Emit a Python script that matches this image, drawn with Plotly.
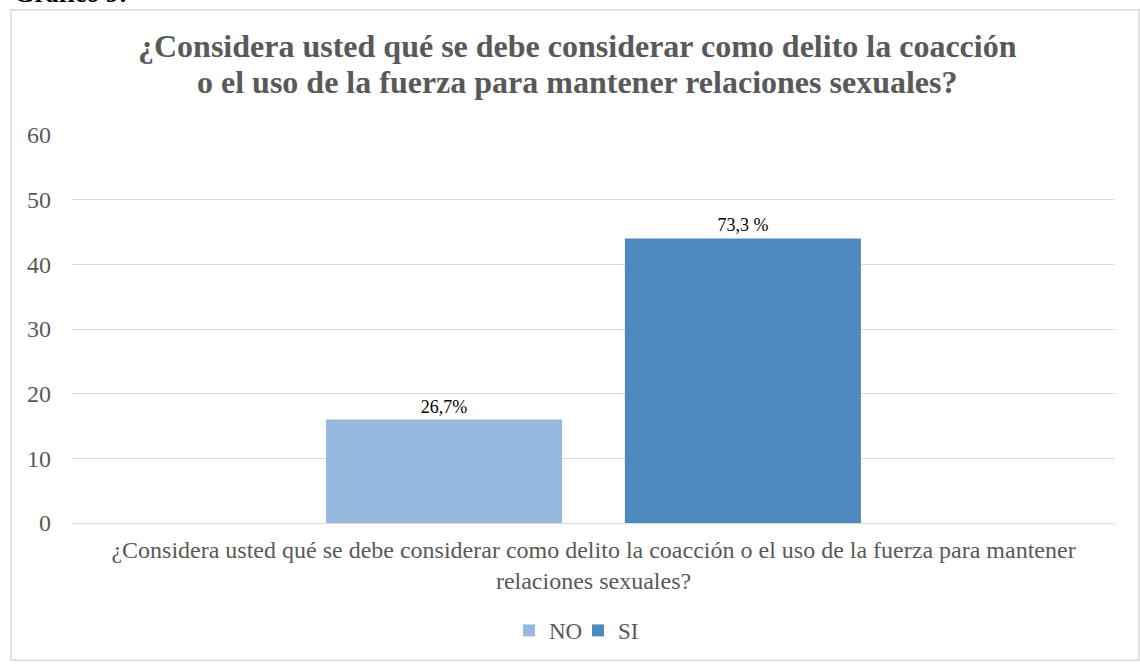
import plotly.graph_objects as go

# Data
category = ["¿Considera usted qué se debe considerar como delito la coacción o el uso de la fuerza para mantener<br>relaciones sexuales?"]
series_names = ["NO", "SI"]
series_values = [[16], [44]]
series_labels = [["26,7%"], ["73,3 %"]]
series_colors = ["#97b9e0", "#4f8abe"]
y_ticks = [0, 10, 20, 30, 40, 50, 60]

title_lines = ["¿Considera usted qué se debe considerar como delito la coacción",
               "o el uso de la fuerza para mantener relaciones sexuales?"]

W, H = 1140, 664
L, R, T, B = 72, 25, 135, 139
pw, ph = W - L - R, H - T - B


def px_x(x):
    return (x - L) / pw


def px_y(y):
    return (H - B - y) / ph


SERIF = "Liberation Serif"
GREY = "#595959"

fig = go.Figure()
for name, vals, labs, col in zip(series_names, series_values, series_labels, series_colors):
    fig.add_trace(go.Bar(
        name=name, x=category, y=vals, text=labs,
        textposition="outside", cliponaxis=False,
        textfont=dict(family=SERIF, size=18, color="#000000"),
        marker=dict(color=col, line=dict(width=0)),
    ))

fig.update_layout(
    width=W, height=H,
    margin=dict(l=L, r=R, t=T, b=B),
    paper_bgcolor="white", plot_bgcolor="white",
    barmode="group", bargap=0.427, bargroupgap=0.21,
    font=dict(family=SERIF, color=GREY),
    showlegend=True,
    legend=dict(orientation="h", x=px_x(578), xanchor="center",
                y=px_y(633), yanchor="middle",
                font=dict(family=SERIF, size=23, color=GREY),
                entrywidth=24, traceorder="normal"),
    xaxis=dict(showgrid=False, showline=False, ticks="",
               ticklabelstandoff=10,
               tickfont=dict(family=SERIF, size=24, color=GREY)),
    yaxis=dict(range=[0, 60], tickvals=y_ticks, showgrid=True,
               gridcolor="#d9d9d9", gridwidth=1, zeroline=True,
               zerolinecolor="#d9d9d9", zerolinewidth=1, showline=False,
               ticks="", ticklabelstandoff=20,
               tickfont=dict(family=SERIF, size=24, color=GREY)),
)

# title, one annotation per line so the line spacing matches
for line, yc in zip(title_lines, [46, 82]):
    fig.add_annotation(text="<b>" + line + "</b>", xref="paper", yref="paper",
                       x=px_x(577), xanchor="center", y=px_y(yc), yanchor="middle",
                       showarrow=False,
                       font=dict(family=SERIF, size=32, color=GREY))

# outer chart border
fig.add_shape(type="rect", xref="paper", yref="paper",
              x0=px_x(11), x1=px_x(1139), y0=px_y(663), y1=px_y(9),
              line=dict(color="#d9d9d9", width=1.5), fillcolor="rgba(0,0,0,0)",
              layer="below")

# caption cut off at the top of the page
fig.add_annotation(text="<b>Gráfico 9:</b>", xref="paper", yref="paper",
                   x=px_x(12), xanchor="left", y=px_y(9), yanchor="bottom",
                   showarrow=False,
                   font=dict(family=SERIF, size=26, color="#000000"))

fig.write_html("out.html", config={"displayModeBar": False},
               post_script="document.body.style.margin = '0';")
